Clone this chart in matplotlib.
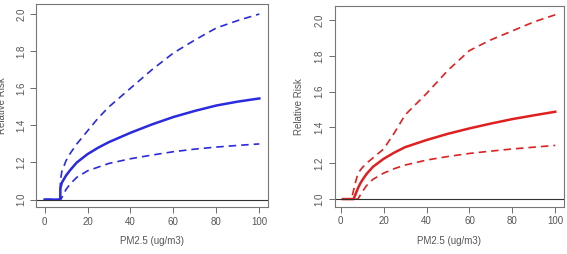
import matplotlib.pyplot as plt

# left panel (blue)
x_left = [0, 2, 4, 6, 7.3, 7.35, 8, 10, 12, 15, 20, 25, 30, 40, 50, 60, 70, 80, 90, 100]
rr_left = [1.0, 1.0, 1.0, 1.0, 1.0, 1.06, 1.09, 1.13, 1.16, 1.20, 1.245, 1.28, 1.31, 1.36, 1.405, 1.445, 1.478, 1.507, 1.528, 1.545]
up_left = [1.0, 1.0, 1.0, 1.0, 1.0, 1.10, 1.15, 1.21, 1.25, 1.30, 1.37, 1.44, 1.50, 1.60, 1.70, 1.79, 1.86, 1.925, 1.965, 2.0]
lo_left = [1.0, 1.0, 1.0, 1.0, 1.0, 1.0, 1.01, 1.055, 1.085, 1.12, 1.155, 1.175, 1.195, 1.22, 1.24, 1.258, 1.272, 1.283, 1.292, 1.30]

# right panel (red)
x_right = [1, 3, 5, 6, 7, 8, 9, 10, 12, 15, 20, 25, 30, 40, 50, 60, 70, 80, 90, 100]
rr_right = [1.0, 1.0, 1.0, 1.0, 1.03, 1.06, 1.085, 1.105, 1.14, 1.18, 1.225, 1.26, 1.29, 1.33, 1.365, 1.395, 1.422, 1.447, 1.468, 1.488]
up_right = [1.0, 1.0, 1.0, 1.05, 1.10, 1.14, 1.16, 1.175, 1.20, 1.23, 1.28, 1.37, 1.47, 1.59, 1.72, 1.83, 1.89, 1.94, 1.99, 2.03]
lo_right = [1.0, 1.0, 1.0, 1.0, 1.0, 1.0, 1.02, 1.04, 1.075, 1.11, 1.145, 1.17, 1.19, 1.218, 1.238, 1.255, 1.268, 1.28, 1.29, 1.30]

xticks = [0, 20, 40, 60, 80, 100]
yticks = [1.0, 1.2, 1.4, 1.6, 1.8, 2.0]

txt = '#555555'
plt.rcParams['font.family'] = 'Liberation Sans'

fig = plt.figure(figsize=(5.67, 2.54), dpi=100)
ax1 = fig.add_axes([0.0635, 0.185, 0.409, 0.80])
ax2 = fig.add_axes([0.590, 0.186, 0.4044, 0.791])

panels = [
    (ax1, x_left, rr_left, up_left, lo_left, '#2a2ae0', (-4, 104), (0.96, 2.055), -0.125),
    (ax2, x_right, rr_right, up_right, lo_right, '#e02020', (-2.9, 104), (0.957, 2.08), -0.134),
]

for ax, x, rr, up, lo, col, xl, yl, ylab_x in panels:
    ax.plot(x, up, '--', color=col, lw=1.2, dashes=(4.5, 3))
    ax.plot(x, lo, '--', color=col, lw=1.2, dashes=(4.5, 3))
    ax.plot(x, rr, '-', color=col, lw=1.8)
    ax.axhline(1.0, color='#333333', lw=0.8)
    ax.set_xlim(*xl)
    ax.set_ylim(*yl)
    ax.set_xticks(xticks)
    ax.set_yticks(yticks)
    ax.set_yticklabels(['%.1f' % v for v in yticks], rotation=90, va='center')
    ax.tick_params(colors=txt, labelsize=7, length=4, width=0.6, pad=3)
    for s in ax.spines.values():
        s.set_color('#777777')
        s.set_linewidth(0.8)
    ax.set_xlabel('PM2.5 (ug/m3)', fontsize=7, color=txt, labelpad=7)
    ax.set_ylabel('Relative Risk', fontsize=7, color=txt)
    ax.yaxis.set_label_coords(ylab_x, 0.5)

plt.savefig('out.png', dpi=100)
